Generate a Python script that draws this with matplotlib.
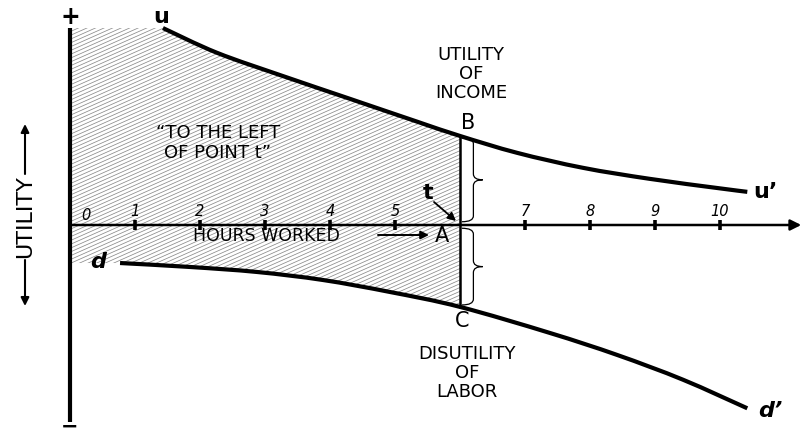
import numpy as np
import matplotlib
matplotlib.use("Agg")
import matplotlib.pyplot as plt
from matplotlib.patches import PathPatch
from matplotlib.path import Path
from matplotlib.collections import LineCollection

plt.rcParams['font.family'] = ['DejaVu Sans']

# ---------------- data ----------------
income_hours = [1.43, 2.26, 3.28, 4.31, 5.34, 6.0, 6.88, 7.89, 8.92, 9.95, 10.42]
income_utility = [3.03, 2.65, 2.29, 1.94, 1.59, 1.37, 1.11, 0.88, 0.71, 0.57, 0.51]
labor_hours = [0.77, 1.85, 2.88, 3.89, 4.92, 6.0, 7.38, 8.42, 9.43, 10.42]
labor_utility = [-0.585, -0.646, -0.723, -0.846, -1.03, -1.26, -1.66, -2.0, -2.38, -2.82]
tick_hours = [1, 2, 3, 4, 5, 7, 8, 9, 10]
tick_labels = ['1', '2', '3', '4', '5', '7', '8', '9', '10']
point_t = 6.0
axis_top = 3.03
axis_bottom = -3.03
x_axis_end = 11.25

# ---------------- figure ----------------
W, H = 803, 437
ORX, ORY, S = 70, 225, 65.0   # pixel origin and pixels per unit


def P(xp, yp):
    return ((xp - ORX) / S, (ORY - yp) / S)


fig = plt.figure(figsize=(W / 100, H / 100), dpi=100)
ax = fig.add_axes([0, 0, 1, 1])
ax.set_xlim(-ORX / S, (W - ORX) / S)
ax.set_ylim(-(H - ORY) / S, ORY / S)
ax.axis('off')


def smooth_segments(xs, ys):
    """Cubic Bezier segments (Catmull-Rom) through the read points."""
    p = np.column_stack([xs, ys]).astype(float)
    n = len(p)
    segs = []
    for i in range(n - 1):
        p0 = p[i - 1] if i > 0 else p[i]
        p1, p2 = p[i], p[i + 1]
        p3 = p[i + 2] if i + 2 < n else p[i + 1]
        c1 = p1 + (p2 - p0) / 6.0
        c2 = p2 - (p3 - p1) / 6.0
        segs.append((p1, c1, c2, p2))
    return segs


def segs_to_path(segs, start_code=Path.MOVETO):
    verts = [segs[0][0]]
    codes = [start_code]
    for (_, c1, c2, q) in segs:
        verts += [c1, c2, q]
        codes += [Path.CURVE4] * 3
    return verts, codes


def reverse_segs(segs):
    return [(q, c2, c1, p) for (p, c1, c2, q) in segs[::-1]]


inc_segs = smooth_segments(income_hours, income_utility)
lab_segs = smooth_segments(labor_hours, labor_utility)
i_t = income_hours.index(point_t)
l_t = labor_hours.index(point_t)
B_u = income_utility[i_t]
C_u = labor_utility[l_t]

# hatched region "to the left of point t"
v1, c1_ = segs_to_path(inc_segs[:i_t], Path.LINETO)
v2, c2_ = segs_to_path(reverse_segs(lab_segs[:l_t]), Path.LINETO)
verts = [(0.0, axis_top)] + v1 + v2 + [(0.0, labor_utility[0]), (0.0, axis_top)]
codes = [Path.MOVETO] + c1_ + c2_ + [Path.LINETO, Path.CLOSEPOLY]
region = PathPatch(Path(verts, codes), facecolor='none', edgecolor='none', zorder=0.5)
ax.add_patch(region)
slope = np.tan(np.radians(24))
step = 3.8 / S
hatch = []
for c in np.arange(axis_bottom - slope * 7, axis_top + 0.2, step):
    hatch.append([(-0.5, c - 0.5 * slope), (7.0, c + 7.0 * slope)])
lc = LineCollection(hatch, colors='#8a8a8a', linewidths=0.55, zorder=0.6)
ax.add_collection(lc)
lc.set_clip_path(region)

# axes
ax.plot([0, 0], [axis_top, axis_bottom], color='black', lw=3.0, solid_capstyle='butt',
        zorder=3)
ax.annotate('', xy=(x_axis_end, 0), xytext=(0, 0),
            arrowprops=dict(arrowstyle='-|>', lw=1.8, color='black', mutation_scale=16,
                            shrinkA=0, shrinkB=0), zorder=3)
ax.plot(tick_hours, [0] * len(tick_hours), linestyle='none', marker='|',
        markersize=7, mew=2.6, color='black', zorder=3)
for h, lab in zip(tick_hours, tick_labels):
    ax.text(h, 0.2, lab, ha='center', va='center', fontsize=10.5, style='italic')
ax.text(0.25, 0.15, '0', ha='center', va='center', fontsize=10.5, style='italic')

# curves
for segs in (inc_segs, lab_segs):
    v, c = segs_to_path(segs)
    ax.add_patch(PathPatch(Path(v, c), facecolor='none', edgecolor='black', lw=3.0,
                           capstyle='butt', zorder=3))

# vertical line at t
ax.plot([point_t, point_t], [B_u, C_u], color='black', lw=1.8, zorder=3)


def brace(x0, y_top, y_bot, width=0.32, r=0.09):
    x1 = x0 + width * 0.55
    xt = x0 + width
    ym = 0.5 * (y_top + y_bot)
    bv = [(x0, y_top), (x1, y_top), (x1, y_top - r),
          (x1, ym + r), (x1, ym), (xt, ym),
          (x1, ym), (x1, ym - r),
          (x1, y_bot + r), (x1, y_bot), (x0, y_bot)]
    bc = [Path.MOVETO, Path.CURVE3, Path.CURVE3,
          Path.LINETO, Path.CURVE3, Path.CURVE3,
          Path.CURVE3, Path.CURVE3,
          Path.LINETO, Path.CURVE3, Path.CURVE3]
    ax.add_patch(PathPatch(Path(bv, bc), facecolor='none', edgecolor='black', lw=0.9,
                           zorder=3))


brace(point_t + 0.03, B_u - 0.03, 0.05)
brace(point_t + 0.03, -0.05, C_u + 0.03)

# labels
txt = dict(ha='center', va='center', color='black')
ax.text(*P(70, 17), '+', fontsize=17, fontweight='bold', **txt)
ax.text(*P(70, 437), '−', fontsize=15, fontweight='bold', ha='center', va='bottom')
ax.text(*P(161, 17), 'u', fontsize=16, fontweight='bold', **txt)
ax.text(*P(765, 192), 'u’', fontsize=16, fontweight='bold', **txt)
ax.text(*P(98, 262), 'd', fontsize=16, style='italic', fontweight='bold', **txt)
ax.text(*P(770, 411), 'd’', fontsize=16, style='italic', fontweight='bold', **txt)
ax.text(*P(468, 123), 'B', fontsize=15, **txt)
ax.text(*P(462, 321), 'C', fontsize=15, **txt)
ax.text(*P(471, 74), 'UTILITY\nOF\nINCOME', fontsize=13, linespacing=1.1, **txt)
ax.text(*P(467, 373), 'DISUTILITY\nOF\nLABOR', fontsize=13, linespacing=1.1, **txt)
ax.text(*P(218, 143), '“TO THE LEFT\nOF POINT t”', fontsize=13, linespacing=1.1, **txt)
ax.text(*P(266, 236), 'HOURS WORKED', fontsize=12.5, **txt)
ax.annotate('', xy=P(429, 235), xytext=P(378, 235),
            arrowprops=dict(arrowstyle='-|>', lw=1.4, color='black', mutation_scale=12,
                            shrinkA=0, shrinkB=0))
ax.text(*P(442, 236), 'A', fontsize=15, **txt)
ax.text(*P(428, 193), 't', fontsize=16, fontweight='bold', **txt)
ax.annotate('', xy=P(456, 221), xytext=P(434, 202),
            arrowprops=dict(arrowstyle='-|>', lw=1.3, color='black', mutation_scale=12,
                            shrinkA=0, shrinkB=0))

# vertical axis label
ax.text(*P(25, 217), 'UTILITY', fontsize=16, rotation=90, **txt)
ax.annotate('', xy=P(25, 124), xytext=P(25, 174),
            arrowprops=dict(arrowstyle='-|>', lw=1.5, color='black', mutation_scale=12,
                            shrinkA=0, shrinkB=0))
ax.annotate('', xy=P(25, 306), xytext=P(25, 260),
            arrowprops=dict(arrowstyle='-|>', lw=1.5, color='black', mutation_scale=12,
                            shrinkA=0, shrinkB=0))

fig.savefig('out.png', dpi=100)
